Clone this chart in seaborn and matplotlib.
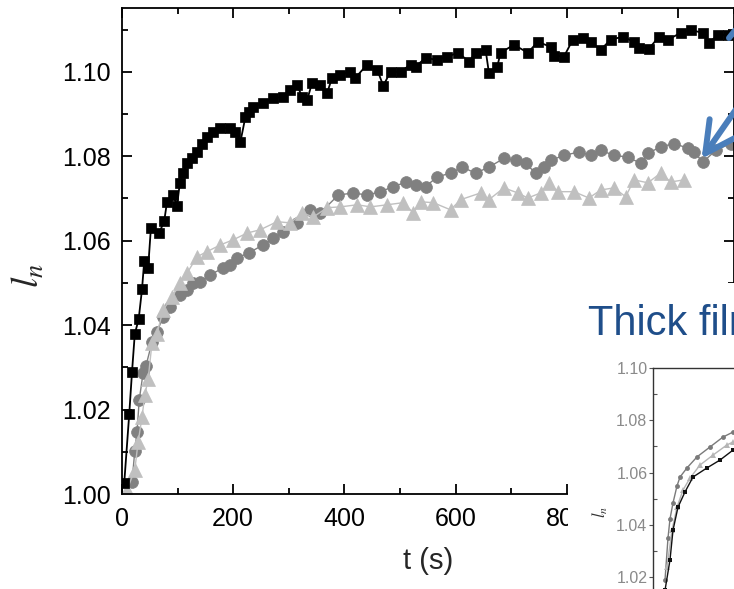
import numpy as np
import matplotlib
matplotlib.use('Agg')
import matplotlib.pyplot as plt
import seaborn as sns
from matplotlib.patches import Rectangle, FancyArrowPatch
from matplotlib.ticker import MultipleLocator

# ---- main panel data (t in s, normalised length l_n) ----
t_sq = [4, 13, 18, 23, 30, 36, 40, 47, 52, 67, 76, 81, 92, 99, 104, 110, 117, 126,
        135, 144, 153, 164, 177, 195, 204, 213, 222, 229, 236, 254, 272, 290, 303,
        315, 324, 333, 342, 357, 369, 378, 393, 411, 420, 441, 459, 470, 483, 501,
        519, 528, 546, 567, 585, 605, 624, 636, 654, 660, 675, 681, 705, 730, 748,
        771, 777, 795, 811, 829, 843, 861, 879, 901, 921, 930, 948, 966, 982, 1005,
        1023, 1045, 1056, 1072, 1091]
l_sq = [1.0026, 1.0189, 1.0289, 1.0379, 1.0414, 1.0485, 1.0552, 1.0535, 1.0630,
        1.0618, 1.0647, 1.0692, 1.0708, 1.0683, 1.0736, 1.0760, 1.0784, 1.0795,
        1.0810, 1.0830, 1.0846, 1.0858, 1.0867, 1.0867, 1.0858, 1.0834, 1.0893,
        1.0905, 1.0917, 1.0926, 1.0938, 1.0940, 1.0957, 1.0969, 1.0940, 1.0933,
        1.0974, 1.0969, 1.0950, 1.0986, 1.0993, 1.1000, 1.0986, 1.1017, 1.1005,
        1.0967, 1.1000, 1.1000, 1.1017, 1.1012, 1.1033, 1.1028, 1.1036, 1.1045,
        1.1024, 1.1045, 1.1052, 1.0998, 1.1012, 1.1045, 1.1064, 1.1045, 1.1071,
        1.1059, 1.1038, 1.1036, 1.1076, 1.1080, 1.1071, 1.1052, 1.1076, 1.1083,
        1.1071, 1.1057, 1.1055, 1.1083, 1.1076, 1.1092, 1.1099, 1.1092, 1.1069,
        1.1087, 1.1087]

t_ci = [18, 23, 27, 31, 38, 43, 54, 63, 74, 86, 104, 117, 128, 140, 158, 182, 195,
        207, 228, 254, 272, 290, 315, 339, 357, 389, 416, 441, 465, 488, 510, 528,
        546, 567, 591, 612, 636, 660, 687, 708, 726, 744, 759, 771, 795, 822, 843,
        861, 885, 910, 933, 946, 969, 993, 1018, 1029, 1045, 1068, 1095]
l_ci = [1.0028, 1.0102, 1.0147, 1.0223, 1.0287, 1.0303, 1.0360, 1.0384, 1.0420,
        1.0443, 1.0472, 1.0483, 1.0500, 1.0502, 1.0519, 1.0535, 1.0543, 1.0559,
        1.0571, 1.0590, 1.0606, 1.0620, 1.0642, 1.0673, 1.0666, 1.0708, 1.0713,
        1.0708, 1.0716, 1.0728, 1.0738, 1.0732, 1.0728, 1.0751, 1.0760, 1.0774,
        1.0760, 1.0774, 1.0795, 1.0790, 1.0783, 1.0760, 1.0774, 1.0790, 1.0802,
        1.0810, 1.0802, 1.0814, 1.0802, 1.0798, 1.0783, 1.0807, 1.0822, 1.0830,
        1.0819, 1.0810, 1.0786, 1.0814, 1.0830]

t_tr = [9, 23, 29, 36, 41, 47, 54, 63, 74, 90, 104, 117, 135, 153, 177, 200, 225,
        249, 279, 303, 324, 344, 369, 393, 423, 447, 477, 506, 524, 537, 560, 591,
        609, 645, 660, 687, 712, 730, 753, 768, 784, 813, 840, 861, 885, 906, 921,
        946, 969, 987, 1011]
l_tr = [1.0010, 1.0057, 1.0123, 1.0182, 1.0234, 1.0272, 1.0358, 1.0380, 1.0436,
        1.0467, 1.0500, 1.0523, 1.0562, 1.0574, 1.0590, 1.0602, 1.0618, 1.0626,
        1.0645, 1.0642, 1.0666, 1.0656, 1.0678, 1.0680, 1.0685, 1.0680, 1.0685,
        1.0690, 1.0666, 1.0692, 1.0690, 1.0673, 1.0697, 1.0713, 1.0697, 1.0725,
        1.0713, 1.0701, 1.0713, 1.0737, 1.0716, 1.0716, 1.0701, 1.0720, 1.0725,
        1.0704, 1.0744, 1.0737, 1.0760, 1.0739, 1.0744]

# ---- inset (thick film) data ----
ti_ci = [24, 30, 34, 40, 48, 54, 68, 88, 114, 140, 160]
li_ci = [1.0189, 1.0350, 1.0423, 1.0484, 1.0549, 1.0583, 1.0618, 1.0660, 1.0698,
         1.0736, 1.0755]
ti_tr = [28, 38, 48, 60, 74, 94, 120, 148, 160]
li_tr = [1.0239, 1.0380, 1.0468, 1.0533, 1.0579, 1.0629, 1.0667, 1.0706, 1.0717]
ti_sq = [24, 34, 40, 50, 64, 80, 108, 134, 160]
li_sq = [1.0150, 1.0266, 1.0380, 1.0468, 1.0526, 1.0583, 1.0618, 1.0648, 1.0686]

sns.set_theme(style='ticks')
plt.rcParams['font.family'] = ['Liberation Sans', 'DejaVu Sans']
plt.rcParams['mathtext.fontset'] = 'stix'

W, H = 734, 589
fig = plt.figure(figsize=(W / 100, H / 100), dpi=100)


def px(x0, y0, x1, y1):
    # pixel box (top-left origin) -> figure fraction rect
    return [x0 / W, 1 - y1 / H, (x1 - x0) / W, (y1 - y0) / H]


ax = fig.add_axes(px(122, 8, 733.5, 494))

sns.lineplot(x=t_ci, y=l_ci, ax=ax, color='#808080', marker='o', markersize=8.5,
             markeredgecolor='#808080', markeredgewidth=0.5, linewidth=1.0,
             sort=False, estimator=None)
sns.lineplot(x=t_tr, y=l_tr, ax=ax, color='#c0c0c0', marker='^', markersize=9.5,
             markeredgecolor='#c0c0c0', markeredgewidth=0.5, linewidth=1.0,
             sort=False, estimator=None)
sns.lineplot(x=t_sq, y=l_sq, ax=ax, color='black', marker='s', markersize=7,
             markeredgecolor='black', markeredgewidth=0.5, linewidth=1.3,
             sort=False, estimator=None)

ax.set_xlim(0, 1100)
ax.set_ylim(1.0, 1.1151)
ax.xaxis.set_major_locator(MultipleLocator(200))
ax.xaxis.set_minor_locator(MultipleLocator(100))
ax.yaxis.set_major_locator(MultipleLocator(0.02))
ax.yaxis.set_minor_locator(MultipleLocator(0.01))
ax.yaxis.set_major_formatter(matplotlib.ticker.FormatStrFormatter('%.2f'))
ax.tick_params(which='both', direction='in', top=True, right=True, colors='black',
               width=1.3, labelsize=18)
ax.tick_params(which='major', length=7)
ax.tick_params(which='minor', length=4)
ax.tick_params(axis='y', pad=8)
ax.tick_params(axis='x', pad=9)
for s in ax.spines.values():
    s.set_linewidth(1.3)
    s.set_color('black')
ax.set_xlabel('t (s)', fontsize=21, labelpad=12)
ax.set_ylabel('$l_n$', fontsize=27)
ax.yaxis.set_label_coords(-0.123, 0.449)

# white block from the slide covering the lower right of the plot
fig.patches.append(Rectangle((568 / W, -0.1), 1.0, 1 - 283 / H + 0.1,
                             transform=fig.transFigure, facecolor='white',
                             edgecolor='none', zorder=1))

fig.text(588 / W, 1 - 335 / H, 'Thick film', fontsize=30, color='#1f4e8a',
         va='baseline', ha='left', zorder=3)

# inset
ins = fig.add_axes(px(653, 368, 1053, 629.5))
ins.set_zorder(2)
ins.set_facecolor('white')
sns.lineplot(x=ti_ci, y=li_ci, ax=ins, color='#7a7a7a', marker='o', markersize=3.5,
             markeredgecolor='#7a7a7a', markeredgewidth=0, linewidth=1.0,
             sort=False, estimator=None)
sns.lineplot(x=ti_tr, y=li_tr, ax=ins, color='#b5b5b5', marker='^', markersize=4,
             markeredgecolor='#b5b5b5', markeredgewidth=0, linewidth=1.0,
             sort=False, estimator=None)
sns.lineplot(x=ti_sq, y=li_sq, ax=ins, color='#111111', marker='s', markersize=3,
             markeredgecolor='#111111', markeredgewidth=0, linewidth=1.0,
             sort=False, estimator=None)
ins.set_xlim(0, 800)
ins.set_ylim(1.0, 1.1)
ins.set_xticks([])
ins.yaxis.set_major_locator(MultipleLocator(0.02))
ins.yaxis.set_minor_locator(MultipleLocator(0.01))
ins.yaxis.set_major_formatter(matplotlib.ticker.FormatStrFormatter('%.2f'))
ins.tick_params(axis='y', which='major', direction='out', length=3, width=0.8,
                colors='#555555', labelcolor='#8a8a8a', labelsize=11.5, pad=1)
ins.tick_params(axis='y', which='minor', direction='in', length=3, width=0.8,
                colors='#555555')
for s in ins.spines.values():
    s.set_linewidth(1.0)
    s.set_color('#333333')
ins.set_ylabel('$l_n$', fontsize=12, color='#333333')
ins.yaxis.set_label_coords(-0.108, 0.45)

# blue arrows from the slide
arr = FancyArrowPatch((762 / W, 1 - 72 / H), (700 / W, 1 - 161 / H),
                      transform=fig.transFigure,
                      arrowstyle='->,head_length=2.2,head_width=1.15',
                      mutation_scale=10, color='#4a7ebb', linewidth=4.3,
                      capstyle='round', joinstyle='round', zorder=4)
fig.patches.append(arr)
fig.lines.append(plt.Line2D([745 / W, 729 / W], [1 - 18 / H, 1 - 38 / H],
                            transform=fig.transFigure, color='#4a7ebb',
                            linewidth=4.3, solid_capstyle='round', zorder=4))

fig.savefig('out.png', dpi=100)
